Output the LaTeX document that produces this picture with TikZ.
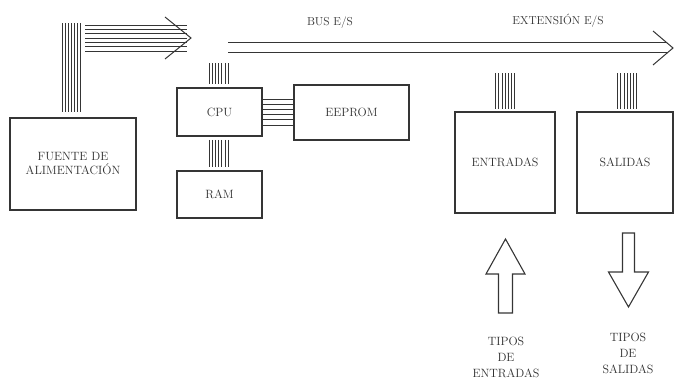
\documentclass[tikz,border=0pt]{standalone}
\usetikzlibrary{calc}
\definecolor{lc}{HTML}{353535}
\definecolor{tc}{HTML}{303030}
\begin{document}
\begin{tikzpicture}[x=1pt,y=-1pt,
  box/.style={draw=lc,line width=1.1pt,inner sep=0pt,outer sep=0pt,anchor=north west,align=center,font=\fontsize{12}{14}\selectfont,text=tc},
  lbl/.style={inner sep=0pt,align=center,font=\fontsize{12}{16}\selectfont,text=tc},
  wire/.style={draw=lc,line width=0.8pt},
  chev/.style={draw=lc,line width=1pt,line join=miter},
  blockarrow/.style={draw=lc,line width=1.1pt,line join=miter}]
\useasboundingbox (0,0) rectangle (675,379);

% boxes
\node[box,minimum width=126pt,minimum height=92pt] (fuente) at (10,118) {FUENTE DE\\ALIMENTACIÓN};
\node[box,minimum width=85pt,minimum height=48pt] (cpu) at (177,88) {CPU};
\node[box,minimum width=85pt,minimum height=47pt] (ram) at (177,171) {RAM};
\node[box,minimum width=115pt,minimum height=55pt] (eeprom) at (294,85) {EEPROM};
\node[box,minimum width=100pt,minimum height=101pt] (entradas) at (455,112) {ENTRADAS};
\node[box,minimum width=96pt,minimum height=101pt] (salidas) at (577,112) {SALIDAS};

% labels
\node[lbl,font=\fontsize{11.5}{14}\selectfont] (buslbl) at (330,23) {BUS E/S};
\node[lbl,font=\fontsize{11.5}{14}\selectfont] (extlbl) at (558,21) {EXTENSIÓN E/S};
\node[lbl] (tipent) at (506,357) {TIPOS\\DE\\ENTRADAS};
\node[lbl] (tipsal) at (628,353) {TIPOS\\DE\\SALIDAS};

% power supply bundle
\coordinate (ptip) at (191,38);
\foreach \i in {0,...,6}{
  \draw[wire] ($(fuente.north)+(-11+3*\i,-6)$) -- ($(fuente.north)+(-11+3*\i,-95)$);
  \draw[wire] ($(ptip)+(-106,-13+4.33*\i)$) -- ($(ptip)+(-4,-13+4.33*\i)$);
}
\draw[chev] ($(ptip)+(-26,-21)$) -- (ptip) -- ($(ptip)+(-26,21)$);

% main bus
\coordinate (busstart) at (228,48);
\coordinate (bustip) at (673,48);
\draw[wire,line width=1pt] ($(busstart)+(0,-5)$) -- ($(bustip)+(-6,-5)$);
\draw[wire,line width=1pt] ($(busstart)+(0,5)$) -- ($(bustip)+(-6,5)$);
\draw[chev] ($(bustip)+(-20,-17)$) -- (bustip) -- ($(bustip)+(-20,17)$);

% CPU and I/O buses
\foreach \i in {0,...,6}{
  \draw[wire] ($(cpu.north)+(-10.6+3.2*\i,-4)$) -- ($(cpu.north)+(-10.6+3.2*\i,-25)$);
  \draw[wire] ($(cpu.south)+(-10.6+3.2*\i,4)$) -- ($(ram.north)+(-10.6+3.2*\i,-4)$);
  \draw[wire] ($(entradas.north)+(-9.5+3.2*\i,-3)$) -- ($(entradas.north)+(-9.5+3.2*\i,-39)$);
  \draw[wire] ($(salidas.north)+(-7.5+3.2*\i,-3)$) -- ($(salidas.north)+(-7.5+3.2*\i,-39)$);
}
\foreach \i in {0,...,5}{
  \draw[wire] ($(cpu.east)+(0,-13+5.2*\i)$) -- ($(eeprom.west)+(0,-13.5+5.2*\i)$);
}

% block arrows
\draw[blockarrow] (498.5,313) -- (498.5,274) -- (486,274) -- (505.5,239) -- (525,274) -- (512.5,274) -- (512.5,313) -- cycle;
\draw[blockarrow] (622.5,233) -- (622.5,272) -- (608.5,272) -- (628.5,307) -- (648.5,272) -- (634.5,272) -- (634.5,233) -- cycle;
\end{tikzpicture}
\end{document}
